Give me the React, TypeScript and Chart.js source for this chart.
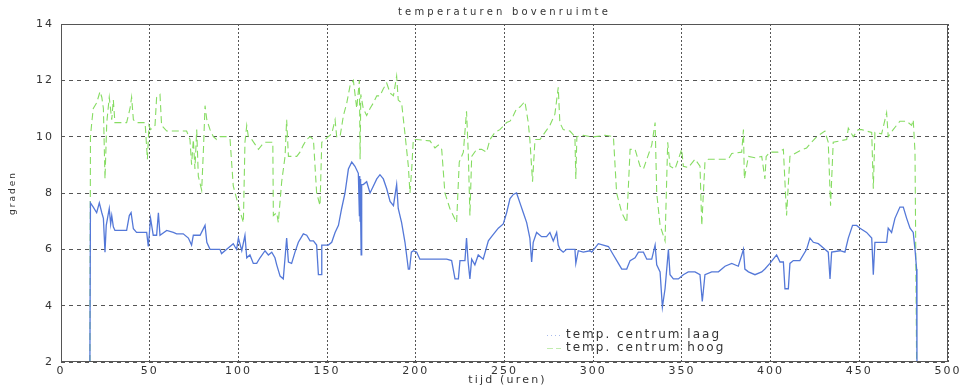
import React, { useEffect, useRef } from "react";
import { Chart, registerables } from "chart.js";

Chart.register(...registerables);

const titleText = "temperaturen bovenruimte";
const xTitle = "tijd (uren)";
const yTitle = "graden";
const seriesNames = ["temp. centrum laag", "temp. centrum hoog"];
const xTicks = [0, 50, 100, 150, 200, 250, 300, 350, 400, 450, 500];
const yTicks = [2, 4, 6, 8, 10, 12, 14];

// temp. centrum laag (blue)
const laagT = [16.3,16.6,18.2,20.1,21.6,23,23.9,24.8,25.5,27.2,28,28.6,29.5,30.4,33.2,37,38.5,39.5,40.8,42.6,48.3,49.2,50.5,52,53.9,54.9,55.8,59.6,63.3,65.2,68.9,71.8,73.6,74.6,78.4,81.2,82.2,84,89.6,90.5,93.4,97.1,98,99,100,101.9,103.7,104.7,106.5,108.4,110.3,112.2,115,116.9,118.8,120.6,121.6,123.5,125.3,126.3,127.2,128.2,130,131.9,133.8,136.6,138.5,140.4,142.3,144.1,145.1,146.6,147,150.7,152.6,154.5,156.4,158.2,160.1,162,163.9,165.7,167.6,168.2,168.4,168.6,168.8,169,169.2,169.5,170.4,172.3,174.2,176.1,178,179.8,181.7,183.6,185.5,187.4,189.2,190.1,192,193.9,195.8,196.5,197.5,198.6,200.5,202.3,208,211.7,217.4,220.2,222.1,224,224.9,227.7,228.6,229.5,230.5,231.5,233.3,235.2,238,240.9,242.7,244.6,246.5,249.3,251.2,253.1,255,256.8,258.7,260.6,262.5,264.3,265.3,266.2,268.1,270.9,273.7,275.6,277.5,279.4,280.3,281.3,283.1,285,289.7,290.2,291.6,294.4,298.2,299.2,302.9,305.7,308.6,311.4,314.2,316.1,318.9,320.8,323.6,325.5,328.3,330.2,333,334.9,335.8,337.7,339,340.5,342.4,343.3,345.2,348,350.8,353.6,357.4,360.2,361.5,363,366.8,370.6,374.3,378.1,381.8,384.7,385.5,387.5,391.2,395,396.8,399.6,401.5,403.4,405.3,407.2,408.1,410,410.9,412.8,416.5,420.3,422.2,424.1,426.9,428.8,430.6,432.5,433.5,434.4,439.1,441.9,443.8,446.2,448.5,450.4,454.1,457,457.9,458.8,461.6,465.4,466.3,468.2,470.1,472.9,474.8,476.7,478.6,480.4,481.4,482.3,482.5];
const laagV = [2,7.65,7.5,7.3,7.65,7.3,7.1,5.9,6.85,7.45,6.9,7.2,6.8,6.67,6.67,6.67,7.2,7.3,6.73,6.6,6.6,6.1,7.1,6.5,6.5,7.3,6.5,6.67,6.6,6.55,6.55,6.4,6.15,6.5,6.5,6.85,6.25,6,6,5.85,6,6.2,6.1,6,6.4,5.95,6.5,5.7,5.8,5.5,5.5,5.7,5.95,5.8,5.9,5.7,5.45,5.05,4.95,5.7,6.4,5.55,5.5,5.9,6.25,6.55,6.5,6.3,6.3,6.15,5.1,5.1,6.15,6.15,6.25,6.6,6.85,7.45,8,8.85,9.1,8.95,8.7,7.2,8.6,7,8.5,7.2,5.8,8.3,8.3,8.4,8,8.25,8.5,8.65,8.5,8.15,7.7,7.55,8.3,7.45,6.95,6.25,5.3,5.3,5.9,5.95,5.9,5.65,5.65,5.65,5.65,5.6,4.95,4.95,5.6,5.6,6.4,5.55,4.95,5.65,5.45,5.8,5.65,6.3,6.45,6.6,6.75,6.9,7.3,7.8,7.95,8,7.65,7.3,6.95,6.4,5.55,6.25,6.6,6.45,6.45,6.6,6.3,6.6,6.15,6,5.9,6,6,5.5,5.95,5.9,5.95,5.9,6.2,6.15,6.1,5.8,5.5,5.3,5.3,5.6,5.7,5.9,5.9,5.65,5.65,6.15,5.45,5.2,3.95,4.6,6,5.1,4.95,4.95,5.1,5.2,5.2,5.1,4.15,5.1,5.2,5.2,5.4,5.5,5.4,6,5.3,5.2,5.1,5.2,5.3,5.5,5.65,5.8,5.55,5.55,4.6,4.6,5.5,5.6,5.6,6,6.4,6.25,6.2,6.1,6,5.9,4.95,5.9,5.95,5.9,6.4,6.85,6.85,6.75,6.6,6.4,5.1,6.25,6.25,6.25,6.75,6.6,7.1,7.5,7.5,7.1,6.75,6.6,6,5.3,2];

// temp. centrum hoog (green)
const hoogT = [16.3,16.6,17.5,18.2,20.1,22,23,23.9,24.8,25.8,27.2,28.6,29.5,30.4,33.2,37,38.9,39.8,40.8,42.6,47.4,48.7,49.6,50.5,53,53.9,55.8,56.7,59.6,65.2,70.8,72.7,73.6,74.6,75.5,76.5,77.4,79.3,80.3,81.2,82.2,84,85.9,87.7,89.6,93.4,95.3,97.1,99,100,102.8,103.7,104.7,105.6,107.5,111.3,113.2,115,119.4,119.7,121.6,122.5,124.4,126.3,127.2,128.2,130,132.9,134.7,136.6,138.5,140.4,142.3,144.1,146,147,148.8,150.7,152.6,154.5,155.4,157.3,159.2,161.1,162.9,164.8,166.7,168.2,168.6,169,170.4,172.3,174.2,176.1,178,179.8,181.7,183.6,185.5,187.4,189.2,190.1,192,193.9,195.8,196.7,197.7,198.6,200.5,208,210.8,212.7,214.6,216.4,219.2,223,224.5,226.8,228.6,229.6,230.5,231.5,234.3,237.1,239.9,241.8,244.6,247.4,251.2,253.1,255,256.8,258.7,261.5,263.4,264.3,265.8,267.2,270,275.6,278.4,280.3,281.2,283.1,286.9,289.7,290.2,290.8,294.4,298.2,301,306.7,311.4,313.2,316.1,318.9,320.8,323.6,326.4,328.3,330.2,333,334.9,335.8,337.7,340.5,342,343.3,346.1,349.9,350.8,353.6,357.4,360.2,361.2,363,364.9,370.6,376.2,378.1,383.7,384.7,385.2,387.5,391.2,395,396.8,397.5,399.6,404.3,407.2,409,410.9,416.5,420.3,423.1,426,430.6,432.5,433.8,435.3,439.1,442.9,443.8,446.6,449.4,451.3,454.1,457,457.9,458.8,462.6,465.4,466.3,469.1,472.9,476.7,479.5,480.4,481.4,482.3];
const hoogV = [2,10,10.6,11,11.2,11.6,11.4,11,8.5,10.5,11.4,10.6,11.3,10.5,10.5,10.5,11,11.4,10.6,10.5,10.5,9.2,10.4,10.25,10.4,11.4,11.5,10.4,10.2,10.2,10.2,9.9,9,9.9,8.85,10.25,8.6,8.1,9.55,11.1,10.6,10.25,10,9.9,10,10,9.9,8.25,7.8,7.55,6.95,9.8,10.4,10,9.9,9.55,9.7,9.8,9.8,7.2,7.3,6.95,8.4,9.3,10.6,9.3,9.3,9.3,9.45,9.7,9.9,10,9.9,8,7.55,9.8,9.9,10,10.1,10.6,10,10,10.75,11.2,11.8,12,11,12,9.2,11.5,11,10.75,11,11.2,11.45,11.45,11.7,11.9,11.55,11.45,12.15,11.3,11.2,10.1,8.95,8,8.85,9.9,9.9,9.85,9.6,9.7,9.55,8,7.45,6.95,9.1,9.45,10.9,9.4,7.2,9.3,9.55,9.55,9.45,9.9,10.15,10.25,10.5,10.55,10.75,11,11.05,11.25,10.5,9.9,8.4,9.9,9.9,10.4,10.8,11.75,10.5,10.25,10.2,10,8.5,10,10.05,10,10,10.05,10,8,7.3,6.95,9.55,9.55,8.95,8.85,9.2,9.7,10.5,8,6.85,6.3,9.8,8.95,8.85,9.55,8.95,8.9,9.2,8.95,6.85,9.1,9.2,9.2,9.2,9.4,9.45,10.25,8.5,9.3,9.25,9.3,8.5,9.3,9.45,9.45,9.55,7.2,9.3,9.5,9.6,9.8,10,10.2,9.8,7.55,9.8,9.85,9.9,10.3,10,10.25,10.25,10.2,10.15,8.15,10.15,10.1,10.85,10,10.25,10.55,10.55,10.4,10.6,9.45,2];

const BLUE = "#5478d8";
const GREEN = "#86dc62";
const FONT = "DejaVu Sans";

const toPoints = (t: number[], v: number[]) => t.map((x, i) => ({ x, y: v[i] }));

const textPlugin = {
  id: "matlabText",
  beforeDraw(chart: any) {
    (chart.ctx as any).letterSpacing = "2px";
  },
  afterDraw(chart: any) {
    const { ctx, chartArea } = chart;
    const { left, right, top, bottom } = chartArea;
    ctx.save();
    ctx.setLineDash([]);
    ctx.strokeStyle = "#555";
    ctx.lineWidth = 1;
    ctx.strokeRect(left + 0.5, top + 0.5, right - left - 1, bottom - top - 1);
    ctx.fillStyle = "#333";
    ctx.textBaseline = "middle";
    (ctx as any).letterSpacing = "3.2px";
    ctx.font = `10px ${FONT}`;
    ctx.textAlign = "center";
    ctx.fillText(titleText, (left + right) / 2, 12);
    (ctx as any).letterSpacing = "2.2px";
    ctx.font = `11px ${FONT}`;
    ctx.fillText(xTitle, (left + right) / 2 + 3, 380);
    (ctx as any).letterSpacing = "2px";
    ctx.font = `12px ${FONT}`;
    ctx.textAlign = "left";
    const rows = [
      { y: 335, color: BLUE, dash: [1, 3], label: seriesNames[0] },
      { y: 348, color: GREEN, dash: [6, 3], label: seriesNames[1] },
    ];
    rows.forEach((r) => {
      ctx.strokeStyle = r.color;
      ctx.globalAlpha = 0.5;
      ctx.setLineDash(r.dash);
      ctx.beginPath();
      ctx.moveTo(547, r.y + 0.5);
      ctx.lineTo(561, r.y + 0.5);
      ctx.stroke();
      ctx.globalAlpha = 1;
      ctx.fillStyle = "#333";
      ctx.fillText(r.label, 566, r.y);
    });
    ctx.restore();
  },
};

export default function App() {
  const ref = useRef<HTMLCanvasElement | null>(null);
  useEffect(() => {
    document.body.style.margin = "0";
    Chart.defaults.font.family = FONT;
    const chart = new Chart(ref.current as HTMLCanvasElement, {
      type: "line",
      data: {
        datasets: [
          {
            label: seriesNames[0],
            data: toPoints(laagT, laagV),
            borderColor: BLUE,
            borderWidth: 1.3,
            pointRadius: 0,
            tension: 0,
            fill: false,
          },
          {
            label: seriesNames[1],
            data: toPoints(hoogT, hoogV),
            borderColor: GREEN,
            borderWidth: 1.1,
            borderDash: [7, 4],
            pointRadius: 0,
            tension: 0,
            fill: false,
          },
        ],
      },
      plugins: [textPlugin],
      options: {
        responsive: false,
        animation: false,
        layout: { padding: { top: 24, right: 15, left: 0, bottom: 0 } },
        plugins: { legend: { display: false }, title: { display: false }, tooltip: { enabled: false } },
        scales: {
          x: {
            type: "linear",
            min: 0,
            max: 500,
            afterFit: (s: any) => { s.height = 27; },
            afterBuildTicks: (s: any) => { s.ticks = xTicks.map((v) => ({ value: v })); },
            ticks: { color: "#333", font: { size: 11, family: FONT }, padding: 3, maxRotation: 0, autoSkip: false },
            grid: { color: "#555", lineWidth: 1, drawTicks: false },
            border: { display: false, dash: [2, 2] },
          },
          y: {
            min: 2,
            max: 14,
            afterFit: (s: any) => { s.width = 61; },
            afterBuildTicks: (s: any) => { s.ticks = yTicks.map((v) => ({ value: v })); },
            title: { display: true, text: yTitle, color: "#333", font: { size: 9, family: FONT }, padding: { top: 7, bottom: 0 } },
            ticks: { color: "#333", font: { size: 11, family: FONT }, padding: 7, autoSkip: false },
            grid: { color: "#555", lineWidth: 1, drawTicks: false },
            border: { display: false, dash: [4, 4] },
          },
        },
      } as any,
    });
    return () => chart.destroy();
  }, []);
  return (
    <div style={{ position: "absolute", left: 0, top: 0, width: 963, height: 389 }}>
      <canvas ref={ref} width={963} height={389} style={{ width: 963, height: 389 }} />
    </div>
  );
}
